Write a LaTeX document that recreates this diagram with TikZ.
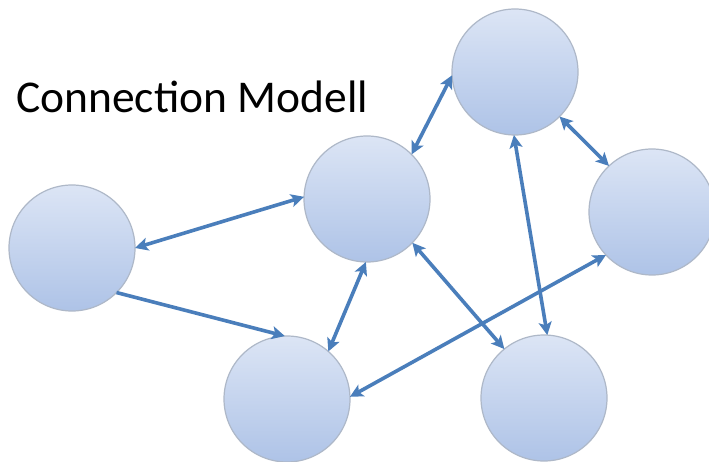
\documentclass[tikz,border=0pt]{standalone}
\usepackage{fontspec}
\setmainfont{Carlito}
\usetikzlibrary{arrows.meta}
\definecolor{linkblue}{HTML}{4A7EBB}
\definecolor{balltop}{HTML}{DCE5F5}
\definecolor{ballbottom}{HTML}{AEC3E7}
\definecolor{ballrim}{HTML}{AEB8C8}
\tikzset{
  ball/.style={circle, minimum size=126pt, inner sep=0pt, outer sep=0pt,
    draw=ballrim, line width=1.2pt, top color=balltop, bottom color=ballbottom},
  tip/.tip={Stealth[length=13pt,width=13pt,inset=3pt]},
  link/.style={draw=linkblue, line width=3.6pt, tip-tip},
  onelink/.style={draw=linkblue, line width=3.6pt, -tip}
}
\begin{document}
\begin{tikzpicture}[x=1pt,y=-1pt]
  \useasboundingbox (0,0) rectangle (709,462);
  \fill[white] (0,0) rectangle (709,462);
  \clip (0,0) rectangle (709,462);

  \node[anchor=base west, inner sep=0pt, text=black,
        font=\fontsize{45.5}{48}\selectfont] (title) at (16,113) {Connection Modell};

  \node[ball] (left)   at (72,248)  {};
  \node[ball] (mid)    at (367,199) {};
  \node[ball] (top)    at (515,72)  {};
  \node[ball] (right)  at (652,212) {};
  \node[ball] (botl)   at (287,399) {};
  \node[ball] (botr)   at (544,398) {};

  \draw[link]    (left.0)   -- (mid.178);
  \draw[onelink] (left.-45) -- (botl.92);
  \draw[link]    (mid.45)   -- (top.183);
  \draw[link]    (mid.-91)  -- (botl.49);
  \draw[link]    (mid.-44)  -- (botr.129);
  \draw[link]    (top.-91)  -- (botr.87);
  \draw[link]    (top.-45)  -- (right.133);
  \draw[link]    (right.223) -- (botl.2);
\end{tikzpicture}
\end{document}
